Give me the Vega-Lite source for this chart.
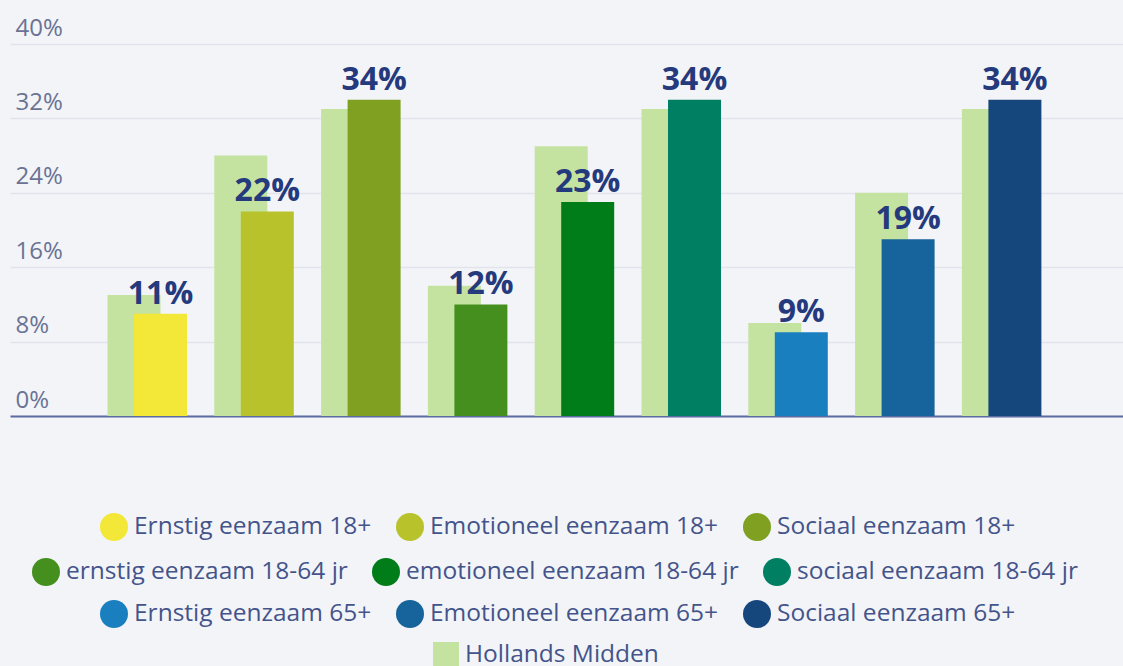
{
  "$schema": "https://vega.github.io/schema/vega-lite/v6.json",
  "width": 1113,
  "height": 372,
  "autosize": {"type": "none"},
  "padding": {"left": 10, "top": 44, "right": 0, "bottom": 250},
  "background": "#f3f4f8",
  "config": {
    "view": {"stroke": null},
    "font": "Open Sans",
    "legend": {
      "title": null,
      "direction": "horizontal",
      "orient": "none",
      "symbolType": "circle",
      "symbolSize": 784,
      "symbolStrokeWidth": 0,
      "labelFont": "Open Sans",
      "labelFontSize": 24.5,
      "labelColor": "#44548a",
      "labelOffset": 6,
      "columnPadding": 24,
      "padding": 0,
      "labelLimit": 500
    }
  },
  "data": {
    "values": [
      {"label": "Ernstig eenzaam 18+", "age": "18+", "value": 0.11, "hm": 0.13},
      {"label": "Emotioneel eenzaam 18+", "age": "18+", "value": 0.22, "hm": 0.28},
      {"label": "Sociaal eenzaam 18+", "age": "18+", "value": 0.34, "hm": 0.33},
      {"label": "ernstig eenzaam 18-64 jr", "age": "18-64", "value": 0.12, "hm": 0.14},
      {"label": "emotioneel eenzaam 18-64 jr", "age": "18-64", "value": 0.23, "hm": 0.29},
      {"label": "sociaal eenzaam 18-64 jr", "age": "18-64", "value": 0.34, "hm": 0.33},
      {"label": "Ernstig eenzaam 65+", "age": "65+", "value": 0.09, "hm": 0.10},
      {"label": "Emotioneel eenzaam 65+", "age": "65+", "value": 0.19, "hm": 0.24},
      {"label": "Sociaal eenzaam 65+", "age": "65+", "value": 0.34, "hm": 0.33}
    ]
  },
  "encoding": {
    "x": {
      "field": "label",
      "type": "nominal",
      "sort": null,
      "scale": {
        "domain": ["Ernstig eenzaam 18+", "Emotioneel eenzaam 18+", "Sociaal eenzaam 18+", "ernstig eenzaam 18-64 jr", "emotioneel eenzaam 18-64 jr", "sociaal eenzaam 18-64 jr", "Ernstig eenzaam 65+", "Emotioneel eenzaam 65+", "Sociaal eenzaam 65+"],
        "paddingInner": 0,
        "paddingOuter": 0.7107,
        "align": 0.554
      },
      "axis": {
        "title": null,
        "labels": false,
        "ticks": false,
        "domain": true,
        "domainColor": "#5b6ca3",
        "domainWidth": 2,
        "grid": false
      }
    }
  },
  "layer": [
    {
      "mark": {"type": "bar", "width": 53, "xOffset": -13.5},
      "encoding": {
        "y": {
          "field": "hm",
          "type": "quantitative",
          "scale": {"domain": [0, 0.4]},
          "axis": {
            "title": null,
            "values": [0, 0.08, 0.16, 0.24, 0.32, 0.4],
            "format": ".0%",
            "domain": false,
            "ticks": false,
            "labelAlign": "left",
            "labelBaseline": "alphabetic",
            "labelPadding": -5,
            "labelOffset": -9,
            "labelFont": "Open Sans",
            "labelFontSize": 24,
            "labelColor": "#6a7393",
            "gridColor": "#e2e4eb",
            "gridWidth": 1.5
          }
        },
        "color": {
          "datum": "Hollands Midden",
          "type": "nominal",
          "scale": {"domain": ["Hollands Midden"], "range": ["#c4e3a0"]},
          "legend": {"symbolType": "square", "symbolSize": 676, "legendX": 423, "legendY": 598}
        }
      }
    },
    {
      "transform": [{"filter": "datum.age === '18+'"}],
      "mark": {"type": "bar", "width": 53, "xOffset": 13},
      "encoding": {
        "y": {"field": "value", "type": "quantitative"},
        "color": {
          "field": "label",
          "type": "nominal",
          "sort": null,
          "scale": {"domain": ["Ernstig eenzaam 18+", "Emotioneel eenzaam 18+", "Sociaal eenzaam 18+"], "range": ["#f3e838", "#b8c22b", "#7fa020"]},
          "legend": {"legendX": 90, "legendY": 469}
        }
      }
    },
    {
      "transform": [{"filter": "datum.age === '18-64'"}],
      "mark": {"type": "bar", "width": 53, "xOffset": 13},
      "encoding": {
        "y": {"field": "value", "type": "quantitative"},
        "color": {
          "field": "label",
          "type": "nominal",
          "sort": null,
          "scale": {"domain": ["ernstig eenzaam 18-64 jr", "emotioneel eenzaam 18-64 jr", "sociaal eenzaam 18-64 jr"], "range": ["#448f1e", "#007d19", "#007f62"]},
          "legend": {"legendX": 22, "legendY": 514}
        }
      }
    },
    {
      "transform": [{"filter": "datum.age === '65+'"}],
      "mark": {"type": "bar", "width": 53, "xOffset": 13},
      "encoding": {
        "y": {"field": "value", "type": "quantitative"},
        "color": {
          "field": "label",
          "type": "nominal",
          "sort": null,
          "scale": {"domain": ["Ernstig eenzaam 65+", "Emotioneel eenzaam 65+", "Sociaal eenzaam 65+"], "range": ["#1a7fbf", "#17639b", "#16477c"]},
          "legend": {"legendX": 90, "legendY": 556}
        }
      }
    },
    {
      "mark": {"type": "text", "xOffset": 13, "dy": -10, "baseline": "alphabetic", "font": "Open Sans", "fontWeight": "bold", "fontSize": 32, "color": "#243a7c"},
      "encoding": {
        "y": {"field": "value", "type": "quantitative"},
        "text": {"field": "value", "type": "quantitative", "format": ".0%"}
      }
    }
  ],
  "resolve": {"scale": {"color": "independent"}}
}
